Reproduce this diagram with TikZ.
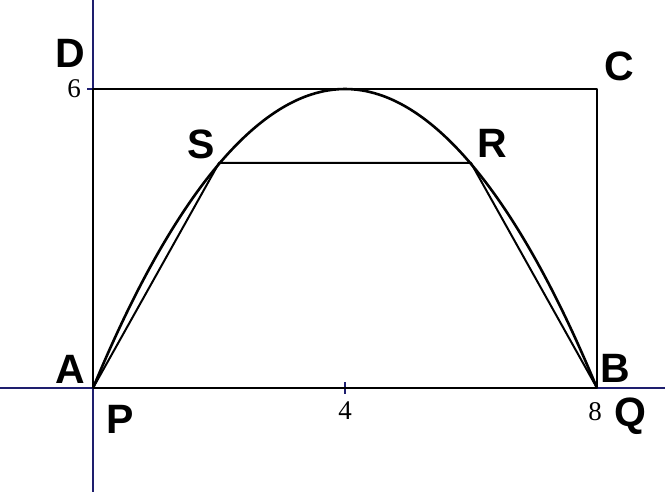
\documentclass[tikz,border=0pt]{standalone}
\usepackage{fontspec}
\setmainfont{Liberation Serif}
\newfontfamily\lblfont{Liberation Sans}
\begin{document}
\begin{tikzpicture}[x=1pt,y=-1pt,
  axis/.style={draw={rgb,255:red,30;green,30;blue,110},line width=1.3pt},
  fig/.style={draw=black,line width=2.6pt,line join=round},
  chord/.style={draw=black,line width=2pt},
  ptlbl/.style={font=\lblfont\bfseries\fontsize{41}{41}\selectfont,inner sep=0pt},
  ticklbl/.style={font=\fontsize{27}{27}\selectfont,inner sep=0pt}]
\useasboundingbox[fill=white] (0,0) rectangle (665,492);
\coordinate (A) at (93,388);
\coordinate (B) at (597,388);
\coordinate (C) at (597,89);
\coordinate (D) at (93,89);
\coordinate (S) at (219,163);
\coordinate (R) at (471,163);
\coordinate (T) at (345,89);
\coordinate (xl) at (0,388);
\coordinate (xr) at (665,388);
\coordinate (yt) at (93,0);
\coordinate (yb) at (93,492);
% axes
\draw[axis] (xl) -- (xr);
\draw[axis] (yt) -- (yb);
\draw[axis] (345,382) -- (345,394);
\draw[axis] (87,89) -- (93,89);
% rectangle
\draw[fig] (A) -- (B) -- (C) -- (D) -- cycle;
% parabola
\draw[fig] (A) parabola bend (T) (B);
% chords
\draw[chord] (A) -- (S) -- (R) -- (B);
% labels
\node[ptlbl] (lD) at (70,53) {D};
\node[ptlbl] (lC) at (619,66) {C};
\node[ptlbl] (lS) at (201,144) {S};
\node[ptlbl] (lR) at (492,143) {R};
\node[ptlbl] (lA) at (70,369) {A};
\node[ptlbl] (lB) at (615,368) {B};
\node[ptlbl] (lP) at (120,419) {P};
\node[ptlbl] (lQ) at (630,416) {Q};
\node[ticklbl] (t6) at (74,89) {6};
\node[ticklbl] (t4) at (345,411) {4};
\node[ticklbl] (t8) at (595,412) {8};
\end{tikzpicture}
\end{document}
